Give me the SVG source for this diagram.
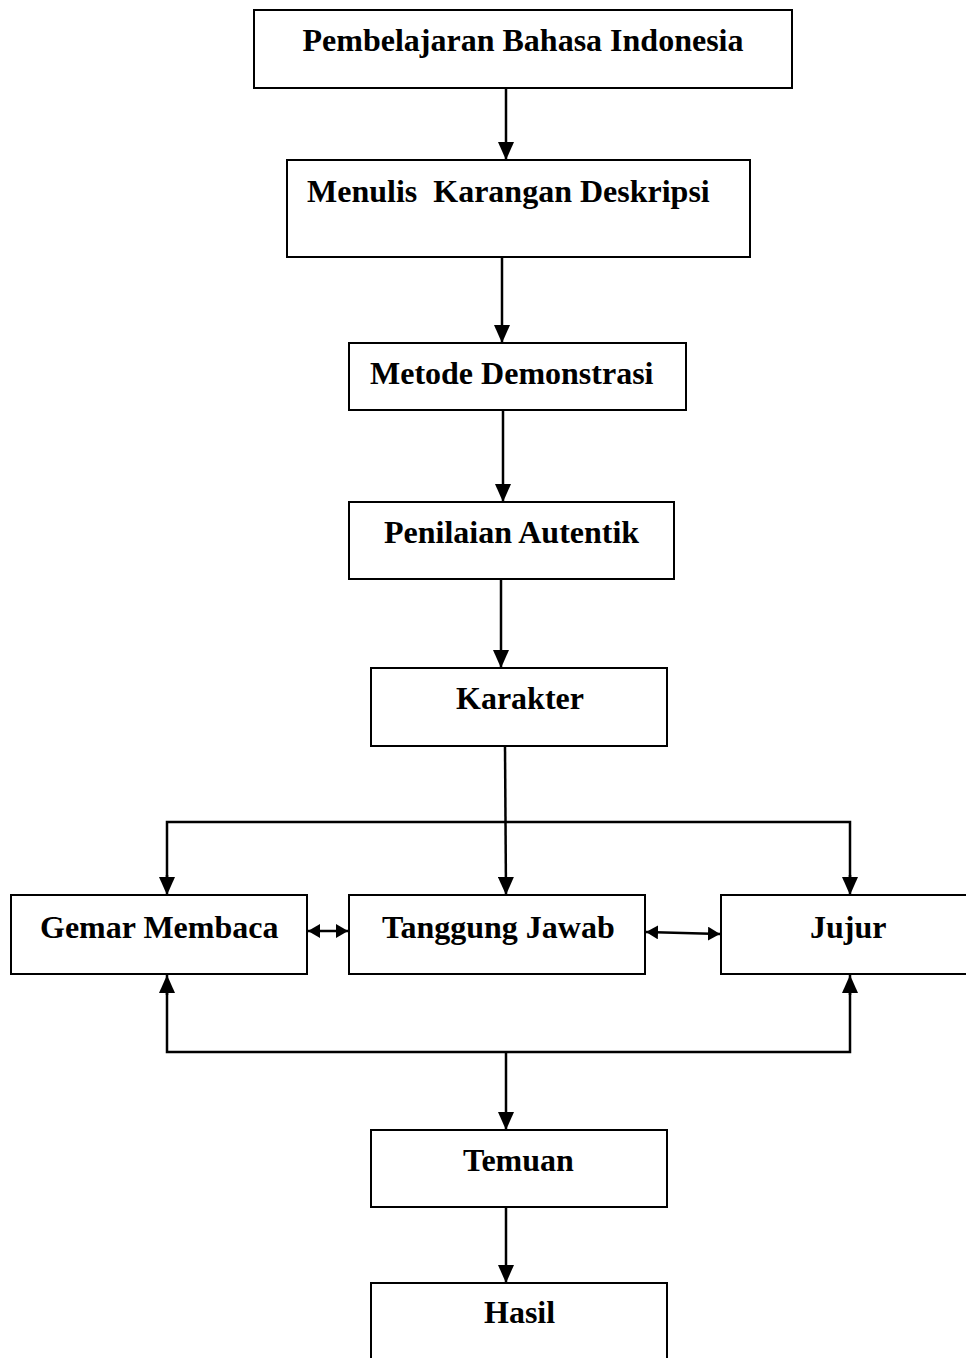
<svg xmlns="http://www.w3.org/2000/svg" width="966" height="1358" viewBox="0 0 966 1358">
<style>
.box{fill:#fff;stroke:#000;stroke-width:2}
.t{font-family:"Liberation Serif","Times New Roman",serif;font-weight:bold;font-size:32px;fill:#000}
.c{fill:none;stroke:#000;stroke-width:2.5}
</style>
<defs>
<marker id="ah" markerUnits="userSpaceOnUse" markerWidth="18" markerHeight="16" viewBox="0 0 18 16" refX="18" refY="8" orient="auto-start-reverse">
<path d="M0,0 L18,8 L0,16 Z" fill="#000"/>
</marker>
<marker id="ahs" markerUnits="userSpaceOnUse" markerWidth="12" markerHeight="14" viewBox="0 0 12 14" refX="12" refY="7" orient="auto-start-reverse">
<path d="M0,0 L12,7 L0,14 Z" fill="#000"/>
</marker>
</defs>
<rect width="966" height="1358" fill="#fff"/>
<g id="connectors">
<line class="c" x1="506" y1="88" x2="506" y2="160" marker-end="url(#ah)"/>
<line class="c" x1="502" y1="257" x2="502" y2="343" marker-end="url(#ah)"/>
<line class="c" x1="503" y1="410" x2="503" y2="502" marker-end="url(#ah)"/>
<line class="c" x1="501" y1="579" x2="501" y2="668" marker-end="url(#ah)"/>
<line class="c" x1="505" y1="746" x2="506" y2="895" marker-end="url(#ah)"/>
<polyline class="c" points="167,880 167,822 850,822 850,880"/>
<line class="c" x1="167" y1="875" x2="167" y2="895" marker-end="url(#ah)"/>
<line class="c" x1="850" y1="875" x2="850" y2="895" marker-end="url(#ah)"/>
<line class="c" x1="308" y1="931" x2="348" y2="931" marker-start="url(#ahs)" marker-end="url(#ahs)"/>
<line class="c" x1="646" y1="932" x2="720" y2="934" marker-start="url(#ahs)" marker-end="url(#ahs)"/>
<polyline class="c" points="167,990 167,1052 850,1052 850,990"/>
<line class="c" x1="167" y1="995" x2="167" y2="975" marker-end="url(#ah)"/>
<line class="c" x1="850" y1="995" x2="850" y2="975" marker-end="url(#ah)"/>
<line class="c" x1="506" y1="1052" x2="506" y2="1130" marker-end="url(#ah)"/>
<line class="c" x1="506" y1="1207" x2="506" y2="1283" marker-end="url(#ah)"/>
</g>
<g id="n1"><rect class="box" x="254" y="10" width="538" height="78"/><text class="t" x="523" y="51" text-anchor="middle">Pembelajaran Bahasa Indonesia</text></g>
<g id="n2"><rect class="box" x="287" y="160" width="463" height="97"/><text class="t" x="307" y="202" xml:space="preserve">Menulis  Karangan Deskripsi</text></g>
<g id="n3"><rect class="box" x="349" y="343" width="337" height="67"/><text class="t" x="370" y="384">Metode Demonstrasi</text></g>
<g id="n4"><rect class="box" x="349" y="502" width="325" height="77"/><text class="t" x="384" y="543">Penilaian Autentik</text></g>
<g id="n5"><rect class="box" x="371" y="668" width="296" height="78"/><text class="t" x="456" y="709">Karakter</text></g>
<g id="n6"><rect class="box" x="11" y="895" width="296" height="79"/><text class="t" x="40" y="938">Gemar Membaca</text></g>
<g id="n7"><rect class="box" x="349" y="895" width="296" height="79"/><text class="t" x="382" y="938">Tanggung Jawab</text></g>
<g id="n8"><rect class="box" x="721" y="895" width="260" height="79"/><text class="t" x="810" y="938">Jujur</text></g>
<g id="n9"><rect class="box" x="371" y="1130" width="296" height="77"/><text class="t" x="463" y="1171">Temuan</text></g>
<g id="n10"><rect class="box" x="371" y="1283" width="296" height="100"/><text class="t" x="484" y="1323">Hasil</text></g>
</svg>
